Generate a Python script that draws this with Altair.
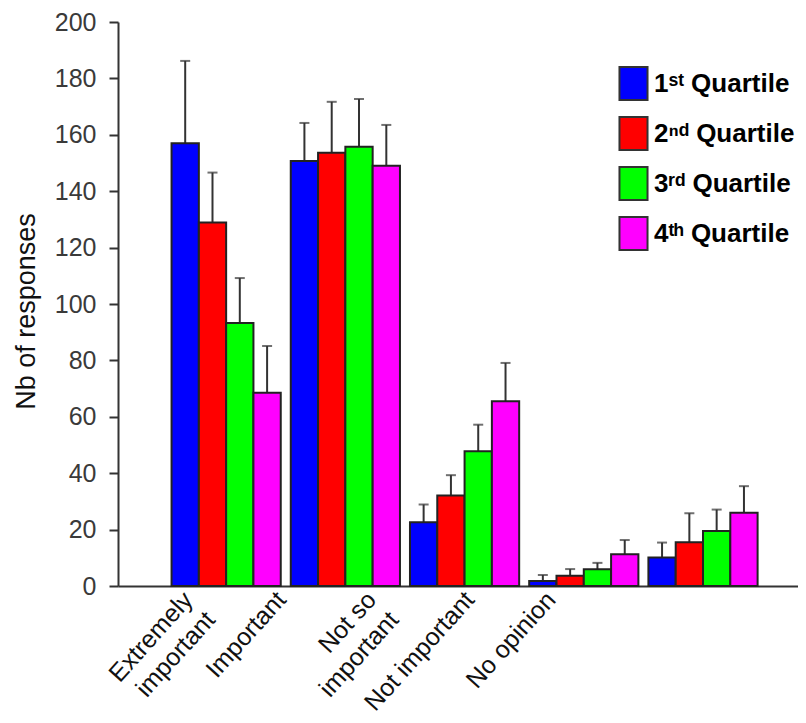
import altair as alt
import pandas as pd

categories = ["Extremely\nimportant", "Important", "Not so\nimportant", "Not important", "No opinion"]
quartiles = ["1ˢᵗ Quartile", "2ⁿᵈ Quartile", "3ʳᵈ Quartile", "4ᵗʰ Quartile"]
colors = ["#0000FF", "#FF0000", "#00FF00", "#FF00FF"]

q1_mean = [157.0, 150.7, 22.6, 1.8, 10.1]
q2_mean = [128.9, 153.6, 32.1, 3.6, 15.5]
q3_mean = [93.3, 155.8, 47.8, 5.9, 19.5]
q4_mean = [68.5, 149.0, 65.5, 11.3, 26.0]

q1_upper = [186.2, 164.2, 28.9, 3.9, 15.4]
q2_upper = [146.6, 171.7, 39.3, 6.0, 25.8]
q3_upper = [109.2, 172.7, 57.2, 8.2, 27.1]
q4_upper = [85.1, 163.5, 79.1, 16.3, 35.4]

y_ticks = list(range(0, 201, 10))

means = [q1_mean, q2_mean, q3_mean, q4_mean]
uppers = [q1_upper, q2_upper, q3_upper, q4_upper]
rows = []
for qi, q in enumerate(quartiles):
    for ci, c in enumerate(categories):
        rows.append({"cat": c, "q": q, "value": means[qi][ci], "upper": uppers[qi][ci]})
df = pd.DataFrame(rows)

FONT = "Liberation Sans, Arial, DejaVu Sans, sans-serif"

x_enc = alt.X(
    "cat:N",
    sort=categories,
    scale=alt.Scale(paddingInner=0.084, paddingOuter=0.394, align=0.57),
    axis=alt.Axis(
        title=None,
        labelAngle=-48,
        labelAlign="right",
        labelBaseline="middle",
        labelFont=FONT,
        labelFontSize=25,
        labelColor="#111",
        labelLineHeight=30,
        labelPadding=9,
        labelExpr="split(datum.label, '\\n')",
        labelOffset={
            "condition": [
                {"test": "indexof(datum.value, 'Extremely') >= 0", "value": -38},
                {"test": "datum.value == 'Important'", "value": -64},
                {"test": "indexof(datum.value, 'Not so') >= 0", "value": -93},
                {"test": "datum.value == 'Not important'", "value": -114},
            ],
            "value": -152,
        },
        ticks=False,
        domainColor="#333",
        domainWidth=2,
        labelOverlap=False,
        labelBound=False,
    ),
)
xoff = alt.XOffset("q:N", sort=quartiles, scale=alt.Scale(paddingInner=0, paddingOuter=0))
y_scale = alt.Scale(domain=[0, 200], nice=False)

bars = alt.Chart(df).mark_bar(stroke="#222", strokeWidth=2).encode(
    x=x_enc,
    xOffset=xoff,
    y=alt.Y(
        "value:Q",
        scale=y_scale,
        axis=alt.Axis(
            title="Nb of responses",
            titleFont=FONT,
            titleFontSize=27,
            titleFontWeight="normal",
            titleColor="#111",
            titlePadding=14,
            titleY=289,
            values=y_ticks,
            labelExpr="datum.value % 20 == 0 ? datum.label : ''",
            labelFont=FONT,
            labelFontSize=25,
            labelColor="#3a3a3a",
            labelPadding=13,
            tickSize={"condition": {"test": "datum.value % 20 != 0", "value": 5}, "value": 9},
            tickColor="#333",
            tickWidth=2,
            domainColor="#333",
            domainWidth=2,
            grid=False,
        ),
    ),
    color=alt.Color(
        "q:N",
        sort=quartiles,
        scale=alt.Scale(domain=quartiles, range=colors),
        legend=alt.Legend(
            orient="none",
            legendX=498,
            legendY=44,
            title=None,
            padding=0,
            symbolType="M-0.85,-1H0.85V1H-0.85Z",
            symbolSize=1089,
            symbolStrokeColor="#333",
            symbolStrokeWidth=2,
            symbolOpacity=1,
            labelFont=FONT,
            labelFontSize=26,
            labelFontWeight="bold",
            labelColor="#000",
            labelOffset=3,
            rowPadding=9,
        ),
    ),
)

err = alt.Chart(df).mark_rule(color="#333", strokeWidth=2).encode(
    x=x_enc, xOffset=xoff, y=alt.Y("value:Q", scale=y_scale), y2="upper:Q"
)
caps = alt.Chart(df).mark_tick(color="#333", thickness=2, size=10).encode(
    x=x_enc, xOffset=xoff, y=alt.Y("upper:Q", scale=y_scale)
)

chart = (
    alt.layer(err, bars, caps)
    .properties(
        width=680,
        height=564,
        autosize=alt.AutoSizeParams(type="none"),
        padding={"left": 110, "top": 14, "right": 0, "bottom": 129},
        background="white",
    )
    .configure_view(stroke=None)
)

chart.save("out.html", embed_options={"renderer": "svg", "actions": False})
